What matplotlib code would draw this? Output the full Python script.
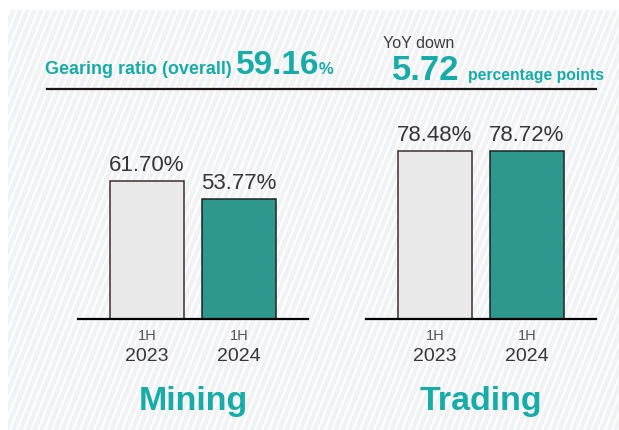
import matplotlib
matplotlib.use("Agg")
import matplotlib.pyplot as plt
from matplotlib.patches import Rectangle

plt.rcParams['font.family'] = ['Liberation Sans', 'DejaVu Sans']

# data
periods = ['2023', '2024']
half = '1H'
mining = [61.70, 53.77]
trading = [78.48, 78.72]
overall = 59.16
yoy_change = 5.72

teal_text = '#17aca7'
teal_bar = '#2e978e'
grey_bar = '#e9e9e9'
dark = '#363636'

W, H = 619, 430
fig = plt.figure(figsize=(W / 100, H / 100), dpi=100)

# background panel with white diagonal stripes (pixel coords)
bg = fig.add_axes([0, 0, 1, 1])
bg.set_xlim(0, W)
bg.set_ylim(H, 0)
bg.axis('off')
panel = Rectangle((8, 10), W - 8, H - 10, facecolor='#f1f2f4', edgecolor='none')
bg.add_patch(panel)
for x0 in range(-200, W + 10, 7):
    ln, = bg.plot([x0, x0 + 0.4 * H], [H, 0], color='white', lw=1.4)
    ln.set_clip_path(panel)

# header
bg.text(45, 74, 'Gearing ratio (overall)', color=teal_text, fontsize=13, fontweight='bold')
bg.text(236, 74, f'{overall:.2f}', color=teal_text, fontsize=24, fontweight='bold')
bg.text(319, 74, '%', color=teal_text, fontsize=12, fontweight='bold')
bg.text(383, 48, 'YoY down', color='#3c3c3c', fontsize=11.5)
bg.text(392, 80, f'{yoy_change:.2f}', color=teal_text, fontsize=25, fontweight='bold')
bg.text(468, 80, 'percentage points', color=teal_text, fontsize=11.3, fontweight='bold')
bg.plot([47, 596], [89, 89], color='#1a1414', lw=1.6)


def draw_group(left, values, top, name):
    ax = fig.add_axes([left / W, (H - 319) / H, 230 / W, 209 / H])
    ax.patch.set_alpha(0)
    x = range(len(values))
    ax.bar(x, values, width=0.8, color=[grey_bar, teal_bar],
           edgecolor=['#3a302e', '#1c2422'], linewidth=1.1, zorder=2)
    ax.set_xlim(-0.75, 1.75)
    ax.set_ylim(0, top)
    for s in ['top', 'right', 'left']:
        ax.spines[s].set_visible(False)
    ax.spines['bottom'].set_linewidth(1.6)
    ax.spines['bottom'].set_zorder(3)
    ax.set_xticks([])
    ax.set_yticks([])
    for i, v in enumerate(values):
        ax.annotate(f'{v:.2f}%', xy=(i, v), xytext=(0, 7), textcoords='offset points',
                    ha='center', va='baseline', fontsize=16, color=dark)
        ax.annotate(half, xy=(i, 0), xytext=(0, -12), textcoords='offset points',
                    ha='center', va='center', fontsize=10.5, color='#555555')
        ax.annotate(periods[i], xy=(i, 0), xytext=(0, -27), textcoords='offset points',
                    ha='center', va='center', fontsize=14, color=dark)
    bg.text(left + 115, 410, name, ha='center', va='baseline', color=teal_text,
            fontsize=24.5, fontweight='bold')


draw_group(78, mining, 93.5, 'Mining')
draw_group(366, trading, 97.7, 'Trading')

fig.savefig('out.png', dpi=100)
